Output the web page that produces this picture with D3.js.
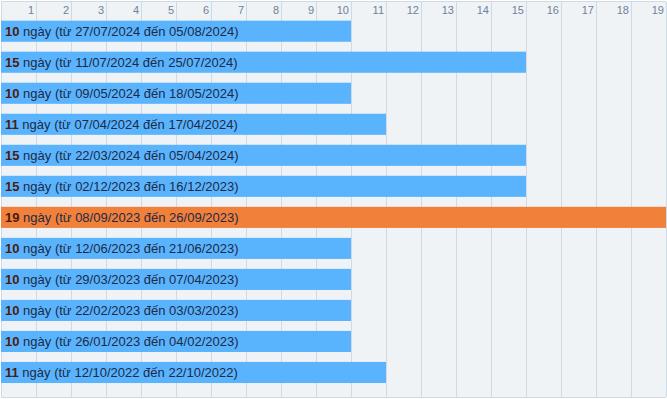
<!DOCTYPE html>
<html lang="vi">
<head>
<meta charset="UTF-8">
<script src="https://d3js.org/d3.v7.min.js"></script>
<style>
  body { margin: 0; background: #fff; }
  svg { display: block; font-family: "Liberation Sans", Arial, sans-serif; }
</style>
</head>
<body>
<svg class="chart"></svg>
<script>
    // data, top to bottom
    let days = [10, 15, 10, 11, 15, 15, 19, 10, 10, 10, 10, 11];
    let startDates = ['27/07/2024', '11/07/2024', '09/05/2024', '07/04/2024', '22/03/2024', '02/12/2023',
        '08/09/2023', '12/06/2023', '29/03/2023', '22/02/2023', '26/01/2023', '12/10/2022'];
    let endDates = ['05/08/2024', '25/07/2024', '18/05/2024', '17/04/2024', '05/04/2024', '16/12/2023',
        '26/09/2023', '21/06/2023', '07/04/2023', '03/03/2023', '04/02/2023', '22/10/2022'];
    let ticks = [1, 2, 3, 4, 5, 6, 7, 8, 9, 10, 11, 12, 13, 14, 15, 16, 17, 18, 19];

    let chart_width = 667;
    let chart_height = 399;

    let rows = days.map(function (d, i) {
        return {i: i, days: d, from: startDates[i], to: endDates[i]};
    });
    let maxDays = d3.max(days);

    let x_range = d3.scaleLinear()
        .domain([0, 19])
        .range([1, 666]);

    let y_range = d3.scaleBand()
        .domain(rows.map(function (d) { return d.i; }))
        .range([15.7, 388])
        .paddingInner(0.32)
        .paddingOuter(0.16);

    let svg = d3.select('.chart');
    svg.attr('width', chart_width).attr('height', chart_height);

    svg.append('rect')
        .attr('x', 1).attr('y', 2)
        .attr('width', 665).attr('height', 395)
        .style('fill', '#f0f3f6');

    // grid
    svg.append('g')
        .selectAll('line')
        .data([0].concat(ticks))
        .enter()
        .append('line')
        .attr('x1', function (d) { return Math.round(x_range(d)) + 0.5; })
        .attr('x2', function (d) { return Math.round(x_range(d)) + 0.5; })
        .attr('y1', 2)
        .attr('y2', 397)
        .style('stroke', '#cfdae4').style('stroke-width', 1);

    svg.append('line')
        .attr('x1', 1).attr('x2', 666).attr('y1', 1.5).attr('y2', 1.5)
        .style('stroke', '#cfdae4');
    svg.append('line')
        .attr('x1', 1).attr('x2', 666).attr('y1', 397.5).attr('y2', 397.5)
        .style('stroke', '#cfdae4');

    // tick labels
    svg.append('g')
        .selectAll('text')
        .data(ticks)
        .enter()
        .append('text')
        .attr('x', function (d) { return x_range(d) - 2; })
        .attr('y', 14)
        .attr('text-anchor', 'end')
        .style('font-size', '11px')
        .style('fill', '#6e8298')
        .text(function (d) { return d; });

    // bars
    svg.append('g')
        .selectAll('rect')
        .data(rows)
        .enter()
        .append('rect')
        .attr('x', x_range(0))
        .attr('y', function (d) { return y_range(d.i); })
        .attr('width', function (d) { return x_range(d.days) - x_range(0); })
        .attr('height', y_range.bandwidth())
        .style('fill', function (d) { return d.days === maxDays ? '#f0803a' : '#5ab4fd'; });

    // labels
    let labels = svg.append('g')
        .selectAll('text')
        .data(rows)
        .enter()
        .append('text')
        .attr('x', 5)
        .attr('y', function (d) { return y_range(d.i) + y_range.bandwidth() / 2 + 4.5; })
        .style('font-size', '13px')
        .style('fill', '#1c2a48');
    labels.append('tspan')
        .style('font-weight', 'bold')
        .style('fill', '#4a1c10')
        .text(function (d) { return d.days; });
    labels.append('tspan')
        .text(function (d) { return ' ngày (từ ' + d.from + ' đến ' + d.to + ')'; });
</script>
</body>
</html>
